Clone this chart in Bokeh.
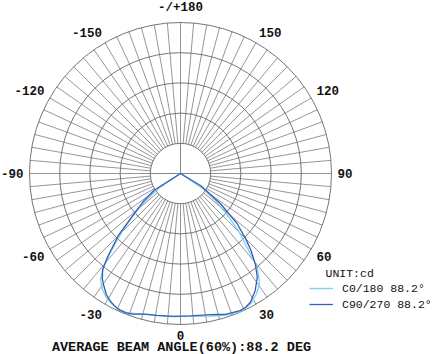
import numpy as np
from bokeh.plotting import figure
from bokeh.models import Range1d, Legend, LegendItem
from bokeh.core.properties import value
from bokeh.embed import file_html
from bokeh.resources import INLINE

# ---- data (angle in degrees, 0 = nadir, positive to the right; relative intensity) ----
c0_180_angles = [-90, -60, -56, -52, -48, -45, -42, -39.5, -37, -34, -31, -28, -25, -21.5,
                 -18, -14, -9, -3, 4, 12, 18, 23, 26, 29, 32.5, 36, 39.5, 42, 45, 48,
                 52, 56, 60, 90]
c0_180 = [0, 0, 0.17, 0.30, 0.43, 0.55, 0.68, 0.80, 0.88, 0.925, 0.955, 0.975, 0.985, 0.99,
          0.975, 0.96, 0.952, 0.948, 0.948, 0.965, 0.985, 0.995, 0.99, 0.975, 0.94, 0.89,
          0.80, 0.66, 0.55, 0.43, 0.30, 0.17, 0, 0]
c90_270_angles = [-90, -62, -57.5, -53, -49, -45, -41, -39, -36.5, -34, -31.5, -29, -26.5,
                  -24, -21.5, -19, -14.5, -9.5, -3, 4, 12, 18, 23.5, 26, 28.5, 32.5, 36.5,
                  39.5, 42.5, 45, 48.5, 53, 59, 62, 90]
c90_270 = [0, 0, 0.21, 0.31, 0.41, 0.585, 0.74, 0.82, 0.87, 0.905, 0.94, 0.963, 0.98,
           0.99, 0.99, 0.985, 0.962, 0.952, 0.947, 0.945, 0.955, 0.98, 0.99, 0.985, 0.97,
           0.92, 0.855, 0.78, 0.69, 0.61, 0.50, 0.33, 0.16, 0, 0]
ring_levels = [0.2, 0.4, 0.6, 0.8, 1.0]
label_angles = [-150, -120, -90, -60, -30, 0, 30, 60, 90, 120, 150, 180]
label_texts = ["-150", "-120", "-90", "-60", "-30", "0", "30", "60", "90", "120", "150", "-/+180"]
series_names = ["C0/180 88.2°", "C90/270 88.2°"]
unit_text = "UNIT:cd"
footer_text = "AVERAGE BEAM ANGLE(60%):88.2 DEG"

W, H = 432, 354
PX = 151.0  # pixels per unit radius
CX, CY = 180.0, 173.0
FONT = "Liberation Mono"


def to_xy(theta_deg, r):
    t = np.radians(np.asarray(theta_deg, dtype=float))
    r = np.asarray(r, dtype=float)
    return r * np.sin(t), -r * np.cos(t)


p = figure(width=W, height=H, output_backend="svg", toolbar_location=None,
           x_range=Range1d(-CX / PX, (W - CX) / PX),
           y_range=Range1d(-(H - CY) / PX, CY / PX),
           min_border=0)
p.axis.visible = False
p.grid.visible = False
p.outline_line_color = None
p.background_fill_color = "white"
p.border_fill_color = "white"

# spokes every 5 degrees from inner ring to outer ring
sp = np.arange(0, 360, 5)
x0, y0 = to_xy(sp, np.full(sp.shape, ring_levels[0]))
x1, y1 = to_xy(sp, np.full(sp.shape, ring_levels[-1]))
p.segment(x0=x0, y0=y0, x1=x1, y1=y1, line_color="#8a8a8a", line_width=0.9)

# axis lines inside the inner ring
ax = np.array([90, -90, 180])
ax0, ay0 = to_xy(ax, np.zeros(3))
ax1, ay1 = to_xy(ax, np.full(3, ring_levels[0]))
p.segment(x0=ax0, y0=ay0, x1=ax1, y1=ay1, line_color="#777777", line_width=0.9)

# rings
p.circle(x=[0] * len(ring_levels), y=[0] * len(ring_levels), radius=ring_levels,
         fill_color=None, line_color="#666666", line_width=0.9)

# curves
cx0, cy0 = to_xy(c0_180_angles, c0_180)
cx1, cy1 = to_xy(c90_270_angles, c90_270)
r0 = p.line(cx0, cy0, line_color="#7fd3f2", line_width=1.4)
r1 = p.line(cx1, cy1, line_color="#3a5db4", line_width=1.3)

# angle labels anchored just outside the outer ring
la = np.asarray(label_angles, dtype=float)
lr = np.where(la == 180, 1.095, 1.04)
lx, ly = to_xy(la, lr)
s = np.round(np.sin(np.radians(la)), 6)
c = np.round(np.cos(np.radians(la)), 6)
aligns = ["left" if v > 0 else ("right" if v < 0 else "center") for v in s]
baselines = ["top" if v > 0 else ("bottom" if (v < 0 and a != 180) else "middle")
             for v, a in zip(c, la)]
p.text(x=lx, y=ly, text=label_texts, text_align=aligns, text_baseline=baselines,
       text_font=value(FONT), text_font_style="bold", text_font_size="12.5px",
       text_color="#111111")

# unit label and footer
p.text(x=[(325 - CX) / PX], y=[(CY - 273) / PX], text=[unit_text],
       text_font=value(FONT), text_font_size="11.5px", text_align="left",
       text_baseline="middle", text_color="#111111")
p.text(x=[(181 - CX) / PX], y=[(CY - 347) / PX], text=[footer_text],
       text_font=value(FONT), text_font_style="bold", text_font_size="13.5px",
       text_align="center", text_baseline="middle", text_color="#111111")

legend = Legend(items=[LegendItem(label=series_names[0], renderers=[r0]),
                       LegendItem(label=series_names[1], renderers=[r1])],
                location=(309, H - 312), padding=0, spacing=0, margin=0,
                glyph_width=24, glyph_height=16, label_height=16, label_standoff=9,
                label_text_font=FONT, label_text_font_size="11.5px",
                label_text_color="#111111",
                border_line_color=None, background_fill_alpha=0)
p.add_layout(legend)

open("out.html", "w").write(file_html(p, INLINE))
